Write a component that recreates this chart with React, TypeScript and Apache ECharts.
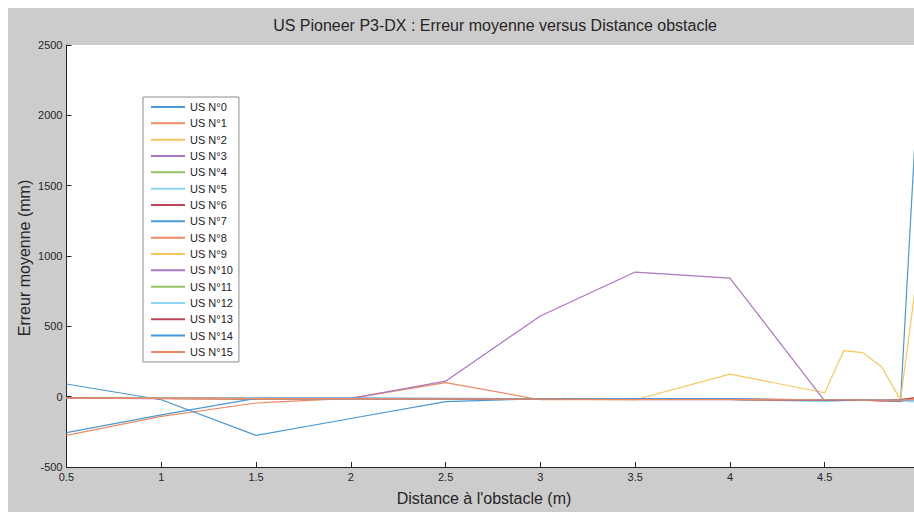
import React, { useEffect, useRef } from 'react';
import * as echarts from 'echarts';

const distances = [0.5, 1, 1.5, 2, 2.5, 3, 3.5, 4, 4.5, 4.6, 4.7, 4.8, 4.9, 5];

const seriesNames = [
  'US N°0', 'US N°1', 'US N°2', 'US N°3', 'US N°4', 'US N°5', 'US N°6', 'US N°7',
  'US N°8', 'US N°9', 'US N°10', 'US N°11', 'US N°12', 'US N°13', 'US N°14', 'US N°15',
];

const us0 = [-8, -10, -12, -12, -14, -15, -16, -18, -28, -26, -25, -26, -35, 2400];
const us1 = [-275, -140, -45, -12, 100, -22, -20, -20, -22, -22, -24, -25, -28, -10];
const us2 = [-10, -12, -15, -15, -15, -20, -22, 160, 28, 327, 313, 213, -23, 1000];
const us3 = [-8, -10, -10, -12, 110, 574, 886, 843, -30, -24, -24, -25, -25, -18];
const us4 = [-6, -10, -14, -14, -15, -18, -20, -20, -22, -22, -24, -25, -25, -20];
const us5 = [-10, -12, -12, -14, -15, -18, -18, -20, -36, -28, -26, -25, -30, -40];
const us6 = [-12, -12, -14, -14, -16, -18, -18, -18, -22, -22, -24, -30, -30, -10];
const us7 = [90, -22, -275, -155, -35, -15, -18, -18, -24, -24, -24, -26, -28, -20];
const us8 = [-10, -12, -14, -15, -15, -18, -20, -20, -22, -24, -24, -25, -20, 0];
const us9 = [-10, -12, -14, -14, -16, -18, -20, -20, -24, -24, -24, -22, -20, -10];
const us10 = [-12, -12, -14, -15, -16, -18, -20, -20, -22, -22, -24, -25, -25, -20];
const us11 = [-10, -12, -14, -14, -16, -18, -20, -20, -22, -22, -24, -25, -25, -20];
const us12 = [-10, -12, -12, -14, -16, -18, -20, -20, -24, -24, -26, -25, -25, -30];
const us13 = [-10, -14, -14, -14, -16, -18, -22, -22, -24, -24, -26, -28, -20, -5];
const us14 = [-255, -130, -12, -10, -12, -14, -16, -18, -22, -22, -24, -25, -25, -20];
const us15 = [-10, -12, -14, -14, -16, -18, -20, -20, -22, -22, -24, -25, -25, -20];

const allValues = [us0, us1, us2, us3, us4, us5, us6, us7, us8, us9, us10, us11, us12, us13, us14, us15];

const palette = ['#4a98d4', '#ec8c66', '#f5c75c', '#ad76c0', '#94c262', '#8ed5f2', '#c04458'];

const yTicks = { min: -500, max: 2500, interval: 500 };
const xTicks = { min: 0.5, max: 5, interval: 0.5 };

const FONT = '"Liberation Sans", Arial, sans-serif';

export default function App() {
  const ref = useRef<HTMLDivElement>(null);
  useEffect(() => {
    const chart = echarts.init(ref.current!, null, { renderer: 'svg' });
    chart.setOption({
      animation: false,
      backgroundColor: '#cccccc',
      grid: {
        left: 58.5, top: 37, right: -5.5, bottom: 45,
        outerBoundsMode: 'none',
        show: true, backgroundColor: '#ffffff', borderWidth: 0, containLabel: false,
      },
      xAxis: {
        type: 'value', min: xTicks.min, max: xTicks.max, interval: xTicks.interval,
        axisLine: { show: true, onZero: false, lineStyle: { color: '#262626', width: 1 } },
        axisTick: { show: true, inside: true, length: 5, lineStyle: { color: '#262626' } },
        axisLabel: {
          margin: 4, color: '#262626', fontSize: 11, fontFamily: FONT,
          showMaxLabel: false,
          formatter: (v: number) => String(v),
        },
        splitLine: { show: false },
      },
      yAxis: {
        type: 'value', min: yTicks.min, max: yTicks.max, interval: yTicks.interval,
        axisLine: { show: true, onZero: false, lineStyle: { color: '#262626', width: 1 } },
        axisTick: { show: true, inside: true, length: 5, lineStyle: { color: '#262626' } },
        axisLabel: {
          margin: 4, color: '#262626', fontSize: 11, fontFamily: FONT,
          formatter: (v: number) => String(v),
        },
        splitLine: { show: false },
      },
      legend: {
        orient: 'vertical', left: 135, top: 89,
        backgroundColor: '#ffffff', borderColor: '#8c8c8c', borderWidth: 1,
        padding: [4, 6, 4, 8], itemGap: 4.33, itemWidth: 34, itemHeight: 2, icon: 'rect',
        textStyle: { fontSize: 11, lineHeight: 12, color: '#222222', fontFamily: FONT },
        data: seriesNames,
      },
      graphic: [
        {
          type: 'text', x: 487, y: 17,
          style: {
            text: 'US Pioneer P3-DX : Erreur moyenne versus Distance obstacle',
            font: `16px ${FONT}`, fill: '#262626', align: 'center', verticalAlign: 'middle',
          },
        },
        {
          type: 'text', x: 476, y: 490,
          style: {
            text: "Distance à l'obstacle (m)",
            font: `16px ${FONT}`, fill: '#262626', align: 'center', verticalAlign: 'middle',
          },
        },
        {
          type: 'text', x: 16, y: 250, rotation: Math.PI / 2,
          style: {
            text: 'Erreur moyenne (mm)',
            font: `16px ${FONT}`, fill: '#262626', align: 'center', verticalAlign: 'middle',
          },
        },
      ],
      series: allValues.map((vals, i) => ({
        name: seriesNames[i],
        type: 'line',
        symbol: 'none',
        showSymbol: false,
        clip: true,
        color: palette[i % palette.length],
        lineStyle: { width: 1.2, color: palette[i % palette.length] },
        data: distances.map((d, j) => [d, vals[j]]),
      })),
    });
    return () => chart.dispose();
  }, []);
  return (
    <div
      ref={ref}
      style={{ position: 'fixed', left: 8, top: 8, width: 906, height: 504, background: '#cccccc' }}
    />
  );
}
